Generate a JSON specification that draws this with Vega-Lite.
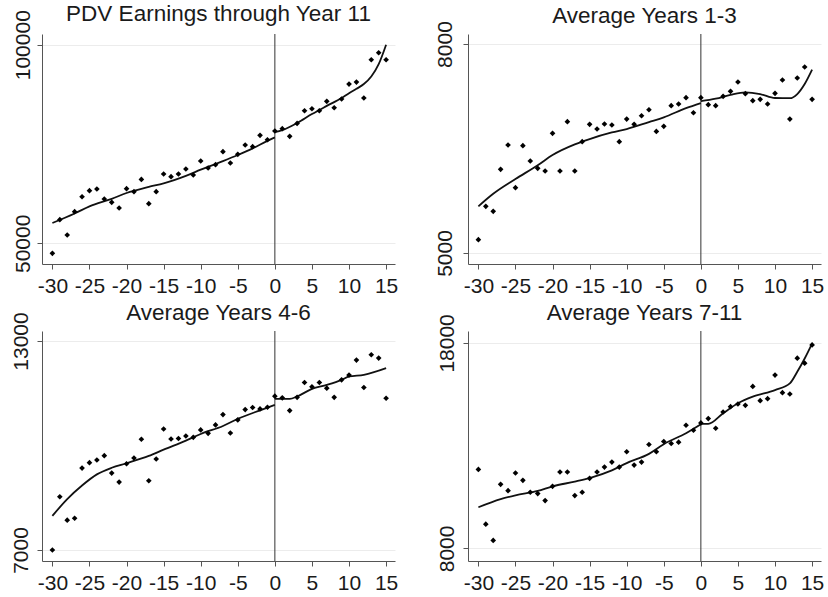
{
  "$schema": "https://vega.github.io/schema/vega-lite/v6.json",
  "padding": {"left": 9, "top": 3, "right": 0, "bottom": 0},
  "background": "white",
  "columns": 2,
  "spacing": {"row": 67, "column": 73},
  "bounds": "flush",
  "config": {
    "view": {"stroke": null},
    "font": "Liberation Sans",
    "axis": {"domainColor": "#555", "tickColor": "#555", "labelColor": "#1a1a1a", "labelFont": "Liberation Sans", "labelFontSize": 21, "tickSize": 5, "title": null},
    "axisX": {"labelExpr": "datum.value < 0 ? '-' + abs(datum.value) : '' + datum.value", "labelPadding": 6},
    "title": {"font": "Liberation Sans", "fontSize": 22.5, "fontWeight": "normal", "color": "#1a1a1a", "offset": 10, "frame": "group", "baseline": "alphabetic", "anchor": "middle"}
  },
  "datasets": {
    "p1pts": [
      {"x":-30,"y":47480},{"x":-29,"y":55960},{"x":-28,"y":52100},{"x":-27,"y":57970},{"x":-26,"y":61740},{"x":-25,"y":63260},{"x":-24,"y":63670},{"x":-23,"y":61160},{"x":-22,"y":60320},{"x":-21,"y":58890},{"x":-20,"y":63760},{"x":-19,"y":63000},{"x":-18,"y":66100},{"x":-17,"y":59980},{"x":-16,"y":63000},{"x":-15,"y":67450},{"x":-14,"y":66780},{"x":-13,"y":67450},{"x":-12,"y":68710},{"x":-11,"y":67200},{"x":-10,"y":70720},{"x":-9,"y":68960},{"x":-8,"y":69800},{"x":-7,"y":73070},{"x":-6,"y":70220},{"x":-5,"y":72400},{"x":-4,"y":74750},{"x":-3,"y":74330},{"x":-2,"y":77180},{"x":-1,"y":76090},{"x":0,"y":78270},{"x":1,"y":78860},{"x":2,"y":76930},{"x":3,"y":80200},{"x":4,"y":83390},{"x":5,"y":83890},{"x":6,"y":83390},{"x":7,"y":85740},{"x":8,"y":84140},{"x":9,"y":86330},{"x":10,"y":90100},{"x":11,"y":90600},{"x":12,"y":86580},{"x":13,"y":96220},{"x":14,"y":97990},{"x":15,"y":96220}
    ],
    "p1fit": [
      {"x":-30,"y":55120,"side":"L"},{"x":-27,"y":57500,"side":"L"},{"x":-25,"y":59310,"side":"L"},{"x":-22,"y":61200,"side":"L"},{"x":-20,"y":62670,"side":"L"},{"x":-17,"y":64200,"side":"L"},{"x":-15,"y":65100,"side":"L"},{"x":-12,"y":67000,"side":"L"},{"x":-10,"y":68540,"side":"L"},{"x":-7,"y":70700,"side":"L"},{"x":-5,"y":72230,"side":"L"},{"x":-3,"y":73900,"side":"L"},{"x":-1,"y":75800,"side":"L"},{"x":0,"y":76680,"side":"L"},
      {"x":0,"y":78000,"side":"R"},{"x":1,"y":78500,"side":"R"},{"x":3,"y":80300,"side":"R"},{"x":5,"y":82550,"side":"R"},{"x":7,"y":84600,"side":"R"},{"x":9,"y":86600,"side":"R"},{"x":10,"y":87800,"side":"R"},{"x":11,"y":88900,"side":"R"},{"x":12,"y":90100,"side":"R"},{"x":13,"y":92000,"side":"R"},{"x":14,"y":95100,"side":"R"},{"x":15,"y":100000,"side":"R"}
    ],
    "p2pts": [
      {"x":-30,"y":5191},{"x":-29,"y":5670},{"x":-28,"y":5598},{"x":-27,"y":6201},{"x":-26,"y":6550},{"x":-25,"y":5938},{"x":-24,"y":6541},{"x":-23,"y":6321},{"x":-22,"y":6215},{"x":-21,"y":6177},{"x":-20,"y":6718},{"x":-19,"y":6177},{"x":-18,"y":6885},{"x":-17,"y":6177},{"x":-16,"y":6598},{"x":-15,"y":6847},{"x":-14,"y":6780},{"x":-13,"y":6852},{"x":-12,"y":6837},{"x":-11,"y":6598},{"x":-10,"y":6923},{"x":-9,"y":6847},{"x":-8,"y":6971},{"x":-7,"y":7057},{"x":-6,"y":6746},{"x":-5,"y":6818},{"x":-4,"y":7115},{"x":-3,"y":7139},{"x":-2,"y":7230},{"x":-1,"y":7014},{"x":0,"y":7230},{"x":1,"y":7129},{"x":2,"y":7115},{"x":3,"y":7249},{"x":4,"y":7321},{"x":5,"y":7455},{"x":6,"y":7287},{"x":7,"y":7187},{"x":8,"y":7206},{"x":9,"y":7139},{"x":10,"y":7292},{"x":11,"y":7483},{"x":12,"y":6923},{"x":13,"y":7512},{"x":14,"y":7670},{"x":15,"y":7206}
    ],
    "p2fit": [
      {"x":-30,"y":5670,"side":"L"},{"x":-28,"y":5850,"side":"L"},{"x":-25,"y":6062,"side":"L"},{"x":-22,"y":6260,"side":"L"},{"x":-20,"y":6407,"side":"L"},{"x":-17,"y":6560,"side":"L"},{"x":-15,"y":6636,"side":"L"},{"x":-12,"y":6730,"side":"L"},{"x":-10,"y":6780,"side":"L"},{"x":-7,"y":6880,"side":"L"},{"x":-5,"y":6947,"side":"L"},{"x":-2,"y":7080,"side":"L"},{"x":0,"y":7153,"side":"L"},
      {"x":0,"y":7180,"side":"R"},{"x":2,"y":7215,"side":"R"},{"x":4,"y":7270,"side":"R"},{"x":6,"y":7306,"side":"R"},{"x":8,"y":7282,"side":"R"},{"x":10,"y":7225,"side":"R"},{"x":12,"y":7222,"side":"R"},{"x":13,"y":7282,"side":"R"},{"x":14,"y":7426,"side":"R"},{"x":15,"y":7632,"side":"R"}
    ],
    "p3pts": [
      {"x":-30,"y":7000},{"x":-29,"y":8527},{"x":-28,"y":7855},{"x":-27,"y":7912},{"x":-26,"y":9352},{"x":-25,"y":9506},{"x":-24,"y":9583},{"x":-23,"y":9707},{"x":-22,"y":9208},{"x":-21,"y":8949},{"x":-20,"y":9477},{"x":-19,"y":9640},{"x":-18,"y":10178},{"x":-17,"y":8987},{"x":-16,"y":9611},{"x":-15,"y":10475},{"x":-14,"y":10187},{"x":-13,"y":10200},{"x":-12,"y":10274},{"x":-11,"y":10235},{"x":-10,"y":10447},{"x":-9,"y":10350},{"x":-8,"y":10590},{"x":-7,"y":10888},{"x":-6,"y":10360},{"x":-5,"y":10734},{"x":-4,"y":11032},{"x":-3,"y":11090},{"x":-2,"y":11051},{"x":-1,"y":11099},{"x":0,"y":11416},{"x":1,"y":11368},{"x":2,"y":11003},{"x":3,"y":11384},{"x":4,"y":11810},{"x":5,"y":11685},{"x":6,"y":11810},{"x":7,"y":11646},{"x":8,"y":11384},{"x":9,"y":11886},{"x":10,"y":12021},{"x":11,"y":12453},{"x":12,"y":11666},{"x":13,"y":12606},{"x":14,"y":12510},{"x":15,"y":11358}
    ],
    "p3fit": [
      {"x":-30,"y":7979,"side":"L"},{"x":-28,"y":8460,"side":"L"},{"x":-26,"y":8850,"side":"L"},{"x":-24,"y":9170,"side":"L"},{"x":-22,"y":9360,"side":"L"},{"x":-20,"y":9490,"side":"L"},{"x":-17,"y":9700,"side":"L"},{"x":-15,"y":9880,"side":"L"},{"x":-12,"y":10140,"side":"L"},{"x":-10,"y":10331,"side":"L"},{"x":-7,"y":10560,"side":"L"},{"x":-5,"y":10763,"side":"L"},{"x":-2,"y":11010,"side":"L"},{"x":0,"y":11166,"side":"L"},
      {"x":0,"y":11339,"side":"R"},{"x":2,"y":11339,"side":"R"},{"x":3,"y":11407,"side":"R"},{"x":5,"y":11627,"side":"R"},{"x":7,"y":11742,"side":"R"},{"x":9,"y":11886,"side":"R"},{"x":10,"y":11982,"side":"R"},{"x":12,"y":12030,"side":"R"},{"x":15,"y":12222,"side":"R"}
    ],
    "p4pts": [
      {"x":-30,"y":11845},{"x":-29,"y":9179},{"x":-28,"y":8388},{"x":-27,"y":11118},{"x":-26,"y":10811},{"x":-25,"y":11667},{"x":-24,"y":11312},{"x":-23,"y":10730},{"x":-22,"y":10666},{"x":-21,"y":10326},{"x":-20,"y":11021},{"x":-19,"y":11716},{"x":-18,"y":11716},{"x":-17,"y":10569},{"x":-16,"y":10730},{"x":-15,"y":11409},{"x":-14,"y":11716},{"x":-13,"y":11958},{"x":-12,"y":12200},{"x":-11,"y":11958},{"x":-10,"y":12701},{"x":-9,"y":12055},{"x":-8,"y":12200},{"x":-7,"y":13057},{"x":-6,"y":12701},{"x":-5,"y":13202},{"x":-4,"y":13105},{"x":-3,"y":13170},{"x":-2,"y":13994},{"x":-1,"y":13751},{"x":0,"y":14107},{"x":1,"y":14317},{"x":2,"y":13848},{"x":3,"y":14640},{"x":4,"y":14898},{"x":5,"y":15028},{"x":6,"y":14963},{"x":7,"y":15884},{"x":8,"y":15189},{"x":9,"y":15286},{"x":10,"y":16433},{"x":11,"y":15577},{"x":12,"y":15512},{"x":13,"y":17257},{"x":14,"y":17015},{"x":15,"y":17903}
    ],
    "p4fit": [
      {"x":-30,"y":10003,"side":"L"},{"x":-27,"y":10400,"side":"L"},{"x":-25,"y":10585,"side":"L"},{"x":-22,"y":10800,"side":"L"},{"x":-20,"y":11021,"side":"L"},{"x":-17,"y":11250,"side":"L"},{"x":-15,"y":11425,"side":"L"},{"x":-12,"y":11800,"side":"L"},{"x":-10,"y":12152,"side":"L"},{"x":-7,"y":12600,"side":"L"},{"x":-5,"y":13073,"side":"L"},{"x":-2,"y":13606,"side":"L"},{"x":0,"y":14042,"side":"L"},
      {"x":0,"y":14058,"side":"R"},{"x":1,"y":14058,"side":"R"},{"x":3,"y":14575,"side":"R"},{"x":5,"y":15060,"side":"R"},{"x":7,"y":15383,"side":"R"},{"x":10,"y":15706,"side":"R"},{"x":12,"y":16029,"side":"R"},{"x":13,"y":16595,"side":"R"},{"x":14,"y":17241,"side":"R"},{"x":15,"y":17968,"side":"R"}
    ],
    "zero": [{"x":0}]
  },
  "concat": [
      {"title": {"text": "PDV Earnings through Year 11", "frame": "group", "dy": 26}, "width": 353, "height": 230,
       "encoding": {
         "x": {"field":"x","type":"quantitative","scale":{"domain":[-31.4,16.2],"nice":false,"zero":false},"axis":{"values":[-30,-25,-20,-15,-10,-5,0,5,10,15],"grid":false}}
       },
       "layer": [
        {"data":{"name":"zero"},"mark":{"type":"rule","color":"#333","strokeWidth":1}},
        {"data":{"name":"p1fit"},"mark":{"type":"line","color":"#111","strokeWidth":1.8,"interpolate":"monotone"},
         "encoding":{"y":{"field":"y","type":"quantitative","scale":{"domain":[44800,102700],"nice":false,"zero":false},"axis":{"values":[50000,100000],"format":"d","grid":true,"gridColor":"#ececec","labelAngle":-90,"labelAlign":"center","labelBaseline":"bottom","labelPadding":4}},"detail":{"field":"side"}}},
        {"data":{"name":"p1pts"},"mark":{"type":"point","shape":"diamond","filled":true,"color":"#000","size":32,"opacity":1},
         "encoding":{"y":{"field":"y","type":"quantitative"}}}
       ]},
      {"title": {"text": "Average Years 1-3", "frame": "group", "dy": 17}, "width": 353, "height": 230,
       "encoding": {
         "x": {"field":"x","type":"quantitative","scale":{"domain":[-31.4,16.2],"nice":false,"zero":false},"axis":{"values":[-30,-25,-20,-15,-10,-5,0,5,10,15],"grid":false}}
       },
       "layer": [
        {"data":{"name":"zero"},"mark":{"type":"rule","color":"#333","strokeWidth":1}},
        {"data":{"name":"p2fit"},"mark":{"type":"line","color":"#111","strokeWidth":1.8,"interpolate":"monotone"},
         "encoding":{"y":{"field":"y","type":"quantitative","scale":{"domain":[4842,8144],"nice":false,"zero":false},"axis":{"values":[5000,8000],"format":"d","grid":true,"gridColor":"#ececec","labelAngle":-90,"labelAlign":"center","labelBaseline":"bottom","labelPadding":8}},"detail":{"field":"side"}}},
        {"data":{"name":"p2pts"},"mark":{"type":"point","shape":"diamond","filled":true,"color":"#000","size":32,"opacity":1},
         "encoding":{"y":{"field":"y","type":"quantitative"}}}
       ]},
      {"title": {"text": "Average Years 4-6", "frame": "group", "dy": 23}, "width": 353, "height": 230,
       "encoding": {
         "x": {"field":"x","type":"quantitative","scale":{"domain":[-31.4,16.2],"nice":false,"zero":false},"axis":{"values":[-30,-25,-20,-15,-10,-5,0,5,10,15],"grid":false}}
       },
       "layer": [
        {"data":{"name":"zero"},"mark":{"type":"rule","color":"#333","strokeWidth":1}},
        {"data":{"name":"p3fit"},"mark":{"type":"line","color":"#111","strokeWidth":1.8,"interpolate":"monotone"},
         "encoding":{"y":{"field":"y","type":"quantitative","scale":{"domain":[6683,13288],"nice":false,"zero":false},"axis":{"values":[7000,13000],"format":"d","grid":true,"gridColor":"#ececec","labelAngle":-90,"labelAlign":"center","labelBaseline":"bottom","labelPadding":6}},"detail":{"field":"side"}}},
        {"data":{"name":"p3pts"},"mark":{"type":"point","shape":"diamond","filled":true,"color":"#000","size":32,"opacity":1},
         "encoding":{"y":{"field":"y","type":"quantitative"}}}
       ]},
      {"title": {"text": "Average Years 7-11", "frame": "group", "dy": 21}, "width": 353, "height": 230,
       "encoding": {
         "x": {"field":"x","type":"quantitative","scale":{"domain":[-31.4,16.2],"nice":false,"zero":false},"axis":{"values":[-30,-25,-20,-15,-10,-5,0,5,10,15],"grid":false}}
       },
       "layer": [
        {"data":{"name":"zero"},"mark":{"type":"rule","color":"#333","strokeWidth":1}},
        {"data":{"name":"p4fit"},"mark":{"type":"line","color":"#111","strokeWidth":1.8,"interpolate":"monotone"},
         "encoding":{"y":{"field":"y","type":"quantitative","scale":{"domain":[7386,18580],"nice":false,"zero":false},"axis":{"values":[8000,18000],"format":"d","grid":true,"gridColor":"#ececec","labelAngle":-90,"labelAlign":"center","labelBaseline":"bottom","labelPadding":6}},"detail":{"field":"side"}}},
        {"data":{"name":"p4pts"},"mark":{"type":"point","shape":"diamond","filled":true,"color":"#000","size":32,"opacity":1},
         "encoding":{"y":{"field":"y","type":"quantitative"}}}
       ]}
  ]
}
